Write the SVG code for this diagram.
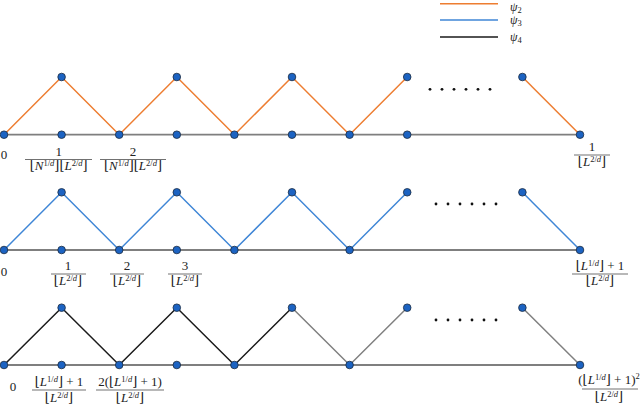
<svg xmlns="http://www.w3.org/2000/svg" width="640" height="409" viewBox="0 0 640 409">
<style>
.t{font-family:"Liberation Serif","DejaVu Serif",serif;font-size:13px;fill:#222;text-anchor:middle}
.i{font-style:italic}
.s{font-size:8.5px}
.base{stroke:#7f7f7f;stroke-width:1.8;fill:none}
.or{stroke:#ed7d31;stroke-width:1.5;fill:none}
.bl{stroke:#3f86d6;stroke-width:1.5;fill:none}
.bk{stroke:#1a1a1a;stroke-width:1.5;fill:none}
.gr{stroke:#808080;stroke-width:1.5;fill:none}
.bar{stroke:#333;stroke-width:0.7}
.nd{fill:#1c63c2;stroke:#1b2b40;stroke-width:0.8}
.dot{fill:#111}
</style>

<g id="legend">
<line class="or" x1="440" y1="3.7" x2="498" y2="3.7"/>
<line class="bl" x1="440" y1="20" x2="498" y2="20"/>
<line class="bk" x1="440" y1="37" x2="498" y2="37"/>
<text class="t" style="text-anchor:start;font-size:12px" x="510" y="11"><tspan class="i">ψ</tspan><tspan class="s" dy="2">2</tspan></text>
<text class="t" style="text-anchor:start;font-size:12px" x="510" y="24"><tspan class="i">ψ</tspan><tspan class="s" dy="2">3</tspan></text>
<text class="t" style="text-anchor:start;font-size:12px" x="510" y="41"><tspan class="i">ψ</tspan><tspan class="s" dy="2">4</tspan></text>
</g>

<g id="connectors">
<line class="base" x1="4" y1="134.7" x2="580" y2="134.7"/>
<line class="base" x1="4" y1="250" x2="580" y2="250"/>
<line class="base" x1="4" y1="365" x2="580" y2="365"/>
<polyline class="or" points="4,134.7 61.6,77 119.2,134.7 176.8,77 234.4,134.7 292,77 349.6,134.7 407.2,77"/>
<line class="or" x1="522.4" y1="77" x2="580" y2="134.7"/>
<polyline class="bl" points="4,250 61.6,192.3 119.2,250 176.8,192.3 234.4,250 292,192.3 349.6,250 407.2,192.3"/>
<line class="bl" x1="522.4" y1="192.3" x2="580" y2="250"/>
<polyline class="bk" points="4,365 61.6,307.7 119.2,365 176.8,307.7 234.4,365 292,307.7"/>
<polyline class="gr" points="292,307.7 349.6,365 407.2,307.7"/>
<line class="gr" x1="522.4" y1="307.7" x2="580" y2="365"/>
</g>

<g id="row1-nodes">
<circle class="nd" cx="4" cy="134.7" r="3.8"/><circle class="nd" cx="61.6" cy="134.7" r="3.8"/><circle class="nd" cx="119.2" cy="134.7" r="3.8"/><circle class="nd" cx="176.8" cy="134.7" r="3.8"/><circle class="nd" cx="234.4" cy="134.7" r="3.8"/><circle class="nd" cx="292" cy="134.7" r="3.8"/><circle class="nd" cx="349.6" cy="134.7" r="3.8"/><circle class="nd" cx="407.2" cy="134.7" r="3.8"/><circle class="nd" cx="580" cy="134.7" r="3.8"/>
<circle class="nd" cx="61.6" cy="77" r="3.8"/><circle class="nd" cx="176.8" cy="77" r="3.8"/><circle class="nd" cx="292" cy="77" r="3.8"/><circle class="nd" cx="407.2" cy="77" r="3.8"/><circle class="nd" cx="522.4" cy="77" r="3.8"/>
</g>
<g id="row2-nodes">
<circle class="nd" cx="4" cy="250" r="3.8"/><circle class="nd" cx="61.6" cy="250" r="3.8"/><circle class="nd" cx="119.2" cy="250" r="3.8"/><circle class="nd" cx="176.8" cy="250" r="3.8"/><circle class="nd" cx="234.4" cy="250" r="3.8"/><circle class="nd" cx="349.6" cy="250" r="3.8"/><circle class="nd" cx="580" cy="250" r="3.8"/>
<circle class="nd" cx="61.6" cy="192.3" r="3.8"/><circle class="nd" cx="176.8" cy="192.3" r="3.8"/><circle class="nd" cx="292" cy="192.3" r="3.8"/><circle class="nd" cx="407.2" cy="192.3" r="3.8"/><circle class="nd" cx="522.4" cy="192.3" r="3.8"/>
</g>
<g id="row3-nodes">
<circle class="nd" cx="4" cy="365" r="3.8"/><circle class="nd" cx="61.6" cy="365" r="3.8"/><circle class="nd" cx="119.2" cy="365" r="3.8"/><circle class="nd" cx="176.8" cy="365" r="3.8"/><circle class="nd" cx="234.4" cy="365" r="3.8"/><circle class="nd" cx="349.6" cy="365" r="3.8"/><circle class="nd" cx="580" cy="365" r="3.8"/>
<circle class="nd" cx="61.6" cy="307.7" r="3.8"/><circle class="nd" cx="176.8" cy="307.7" r="3.8"/><circle class="nd" cx="292" cy="307.7" r="3.8"/><circle class="nd" cx="407.2" cy="307.7" r="3.8"/><circle class="nd" cx="522.4" cy="307.7" r="3.8"/>
</g>

<g id="ellipses">
<circle class="dot" cx="430" cy="89.3" r="1.4"/><circle class="dot" cx="442" cy="89.3" r="1.4"/><circle class="dot" cx="454" cy="89.3" r="1.4"/><circle class="dot" cx="466" cy="89.3" r="1.4"/><circle class="dot" cx="478" cy="89.3" r="1.4"/><circle class="dot" cx="490" cy="89.3" r="1.4"/>
<circle class="dot" cx="436" cy="204" r="1.4"/><circle class="dot" cx="448" cy="204" r="1.4"/><circle class="dot" cx="460" cy="204" r="1.4"/><circle class="dot" cx="472" cy="204" r="1.4"/><circle class="dot" cx="484" cy="204" r="1.4"/><circle class="dot" cx="496" cy="204" r="1.4"/>
<circle class="dot" cx="436" cy="320" r="1.4"/><circle class="dot" cx="448" cy="320" r="1.4"/><circle class="dot" cx="460" cy="320" r="1.4"/><circle class="dot" cx="472" cy="320" r="1.4"/><circle class="dot" cx="484" cy="320" r="1.4"/><circle class="dot" cx="496" cy="320" r="1.4"/>
</g>

<g id="row1-labels">
<text class="t" x="4" y="159">0</text>
<text class="t" x="58.7" y="156">1</text>
<line class="bar" x1="25" y1="159.5" x2="92" y2="159.5"/>
<text class="t" x="58.7" y="170">⌊<tspan class="i">N</tspan><tspan class="s" dy="-4">1/<tspan class="i">d</tspan></tspan><tspan dy="4">⌋⌊</tspan><tspan class="i">L</tspan><tspan class="s" dy="-4">2/<tspan class="i">d</tspan></tspan><tspan dy="4">⌋</tspan></text>
<text class="t" x="133" y="156">2</text>
<line class="bar" x1="100" y1="159.5" x2="166" y2="159.5"/>
<text class="t" x="133" y="170">⌊<tspan class="i">N</tspan><tspan class="s" dy="-4">1/<tspan class="i">d</tspan></tspan><tspan dy="4">⌋⌊</tspan><tspan class="i">L</tspan><tspan class="s" dy="-4">2/<tspan class="i">d</tspan></tspan><tspan dy="4">⌋</tspan></text>
<text class="t" x="592" y="151">1</text>
<line class="bar" x1="574" y1="155" x2="610" y2="155"/>
<text class="t" x="592" y="166">⌊<tspan class="i">L</tspan><tspan class="s" dy="-4">2/<tspan class="i">d</tspan></tspan><tspan dy="4">⌋</tspan></text>
</g>

<g id="row2-labels">
<text class="t" x="4" y="276">0</text>
<text class="t" x="68" y="270">1</text>
<line class="bar" x1="51" y1="274" x2="86" y2="274"/>
<text class="t" x="68" y="285">⌊<tspan class="i">L</tspan><tspan class="s" dy="-4">2/<tspan class="i">d</tspan></tspan><tspan dy="4">⌋</tspan></text>
<text class="t" x="127" y="270">2</text>
<line class="bar" x1="110" y1="274" x2="144" y2="274"/>
<text class="t" x="127" y="285">⌊<tspan class="i">L</tspan><tspan class="s" dy="-4">2/<tspan class="i">d</tspan></tspan><tspan dy="4">⌋</tspan></text>
<text class="t" x="185" y="270">3</text>
<line class="bar" x1="168" y1="274" x2="202" y2="274"/>
<text class="t" x="185" y="285">⌊<tspan class="i">L</tspan><tspan class="s" dy="-4">2/<tspan class="i">d</tspan></tspan><tspan dy="4">⌋</tspan></text>
<text class="t" x="600" y="270">⌊<tspan class="i">L</tspan><tspan class="s" dy="-4">1/<tspan class="i">d</tspan></tspan><tspan dy="4">⌋ + 1</tspan></text>
<line class="bar" x1="572" y1="274" x2="628" y2="274"/>
<text class="t" x="600" y="285">⌊<tspan class="i">L</tspan><tspan class="s" dy="-4">2/<tspan class="i">d</tspan></tspan><tspan dy="4">⌋</tspan></text>
</g>

<g id="row3-labels">
<text class="t" x="13" y="391">0</text>
<text class="t" x="59" y="386">⌊<tspan class="i">L</tspan><tspan class="s" dy="-4">1/<tspan class="i">d</tspan></tspan><tspan dy="4">⌋ + 1</tspan></text>
<line class="bar" x1="32" y1="390" x2="86" y2="390"/>
<text class="t" x="59" y="402">⌊<tspan class="i">L</tspan><tspan class="s" dy="-4">2/<tspan class="i">d</tspan></tspan><tspan dy="4">⌋</tspan></text>
<text class="t" x="130" y="386">2(⌊<tspan class="i">L</tspan><tspan class="s" dy="-4">1/<tspan class="i">d</tspan></tspan><tspan dy="4">⌋ + 1)</tspan></text>
<line class="bar" x1="96" y1="390" x2="164" y2="390"/>
<text class="t" x="130" y="402">⌊<tspan class="i">L</tspan><tspan class="s" dy="-4">2/<tspan class="i">d</tspan></tspan><tspan dy="4">⌋</tspan></text>
<text class="t" x="609" y="384">(⌊<tspan class="i">L</tspan><tspan class="s" dy="-4">1/<tspan class="i">d</tspan></tspan><tspan dy="4">⌋ + 1)</tspan><tspan class="s" dy="-5">2</tspan></text>
<line class="bar" x1="582" y1="389" x2="638" y2="389"/>
<text class="t" x="609" y="401">⌊<tspan class="i">L</tspan><tspan class="s" dy="-4">2/<tspan class="i">d</tspan></tspan><tspan dy="4">⌋</tspan></text>
</g>
</svg>
